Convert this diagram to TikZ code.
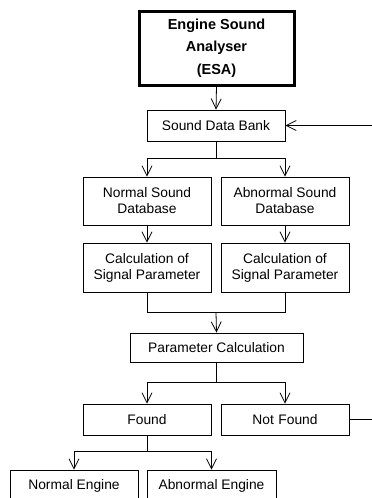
\documentclass[tikz,border=0pt]{standalone}
\usepackage{fontspec}
\setmainfont{Liberation Sans}
\usetikzlibrary{positioning,arrows.meta,calc}

\begin{document}
\begin{tikzpicture}[x=1pt, y=-1pt,
  blk/.style={draw, line width=0.8pt, minimum width=128pt, minimum height=48pt,
              font=\fontsize{13.8}{16}\selectfont, inner sep=1pt, align=center},
  top/.style={draw, line width=3pt, minimum width=155pt, minimum height=74pt,
              font=\bfseries\fontsize{14.5}{22.5}\selectfont, inner sep=1pt, align=center},
  arr/.style={-{Straight Barb[length=10pt,width=10pt]}, line width=0.8pt},
  lne/.style={line width=0.8pt},
]
\clip (0,0) rectangle (372,498);

% title box
\node[top] (esa) at (216.5,48) {Engine Sound\\Analyser\\(ESA)};
\node[blk, minimum width=138pt, minimum height=31pt] (bank) at (216,125.5) {Sound Data Bank};

% two databases and their parameter blocks
\node[blk] (normdb) at (147,201) {Normal Sound\\Database};
\node[blk] (abndb)  at (285,201) {Abnormal Sound\\Database};
\node[blk, minimum height=49pt] (normcalc) at (147,267.5) {Calculation of\\Signal Parameter};
\node[blk, minimum height=49pt] (abncalc)  at (285,267.5) {Calculation of\\Signal Parameter};

% matching
\node[blk, minimum width=173pt, minimum height=29pt] (param) at (216.5,347.5) {Parameter Calculation};
\node[blk, minimum height=31pt] (found)    at (147,419.5) {Found};
\node[blk, minimum height=31pt] (notfound) at (285,419.5) {Not\,\,Found};

% result (cut at the bottom edge)
\node[blk, minimum height=31pt] (normeng) at (74,485.5) {Normal Engine};
\node[blk, minimum width=129pt, minimum height=31pt] (abneng) at (211.5,485.5) {Abnormal Engine};

\draw[arr] (esa.south) -- (bank.north);
\draw[lne] (bank.south) -- ++(0,16.5) coordinate (j1);
\draw[arr] (j1) -| (normdb.north);
\draw[arr] (j1) -| (abndb.north);
\draw[arr] (normdb.south) -- (normcalc.north);
\draw[arr] (abndb.south) -- (abncalc.north);

\draw[lne] (normcalc.south) -- ++(0,20) coordinate (j2) -| (abncalc.south);
\draw[arr] ($(j2)!0.5!(j2-|abncalc.south)$) -- (param.north);

\draw[lne] (param.south) -- ++(0,20) coordinate (j3);
\draw[arr] (j3) -| (found.north);
\draw[arr] (j3) -| (notfound.north);

\draw[lne] (found.south) -- ++(0,16) coordinate (j4);
\draw[arr] (j4) -| (normeng.north);
\draw[arr] (j4) -| (abneng.north);

% back to the data bank (the return leg runs past the right edge)
\draw[arr] (notfound.east) -- ++(28,0) coordinate (fb) |- (bank.east);
\end{tikzpicture}
\end{document}
